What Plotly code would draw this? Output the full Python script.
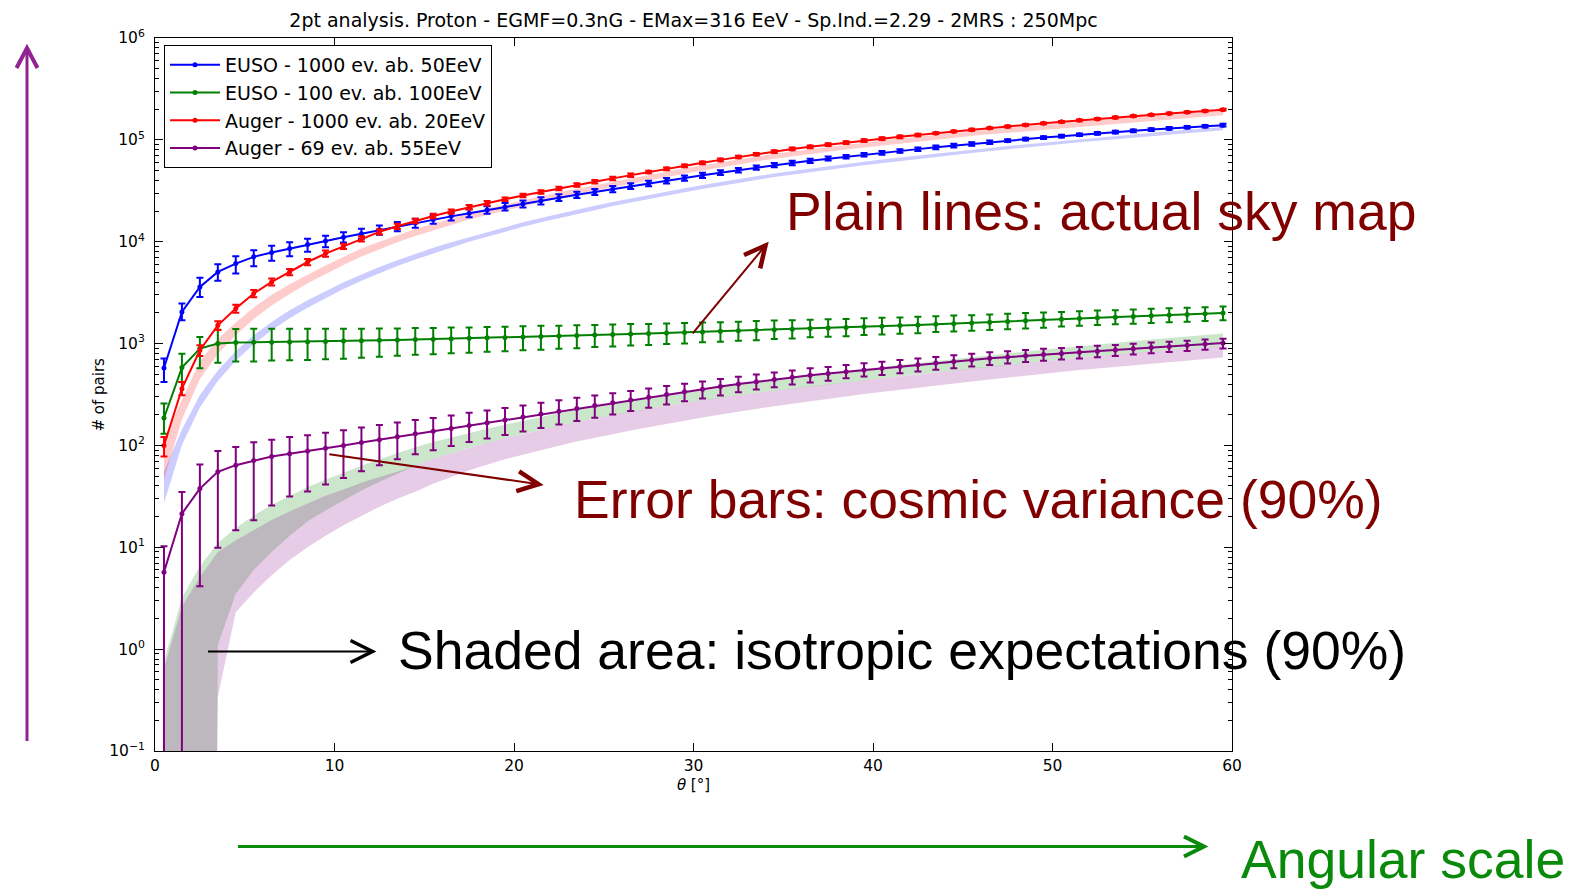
import math
import plotly.graph_objects as go

# ---------------------------------------------------------------- data
THETA = [0.5, 1.5, 2.5, 3.5, 4.5, 5.5, 6.5, 7.5, 8.5, 9.5,
         10.5, 11.5, 12.5, 13.5, 14.5, 15.5, 16.5, 17.5, 18.5, 19.5,
         20.5, 21.5, 22.5, 23.5, 24.5, 25.5, 26.5, 27.5, 28.5, 29.5,
         30.5, 31.5, 32.5, 33.5, 34.5, 35.5, 36.5, 37.5, 38.5, 39.5,
         40.5, 41.5, 42.5, 43.5, 44.5, 45.5, 46.5, 47.5, 48.5, 49.5,
         50.5, 51.5, 52.5, 53.5, 54.5, 55.5, 56.5, 57.5, 58.5, 59.5]

Y_TICK_VALUES = [0.1, 1, 10, 100, 1000, 10000, 100000, 1000000]
Y_TICK_LABELS = ["10<sup>−1</sup>", "10<sup>0</sup>", "10<sup>1</sup>", "10<sup>2</sup>",
                 "10<sup>3</sup>", "10<sup>4</sup>", "10<sup>5</sup>", "10<sup>6</sup>"]

# EUSO - 1000 ev. ab. 50EeV
EUSO_1000 = [575, 2040, 3590, 5050, 6100, 7100, 7850, 8570, 9400, 10150,
             11050, 12000, 13000, 14100, 15250, 16490, 17740, 19070, 20490, 21980,
             23560, 25240, 27000, 28870, 30830, 32900, 35070, 37350, 39740, 42240,
             44860, 47590, 50450, 53430, 56530, 59350, 62250, 65230, 68280, 71390,
             74570, 77800, 81090, 84430, 87820, 91250, 94700, 98190, 101700, 105200,
             108700, 112300, 115800, 119300, 122700, 126200, 129600, 132900, 136200, 139400]
EUSO_1000_UP = [24, 21, 23, 19, 18, 16, 16, 15, 14, 13,
                12, 12, 11, 11, 10, 10, 10, 9, 9, 9,
                8, 8, 8, 7, 7, 7, 7, 6, 6, 6,
                6, 6, 5, 5, 5, 5, 5, 5, 4, 4,
                4, 4, 4, 4, 4, 4, 4, 3, 3, 3,
                3, 3, 3, 3, 3, 3, 3, 3, 3, 3]
EUSO_1000_DN = [27, 17, 20, 18, 20, 19, 17, 16, 15, 13,
                11, 11, 10, 10, 10, 9, 9, 9, 8, 8,
                8, 8, 7, 7, 7, 7, 6, 6, 6, 6,
                6, 5, 5, 5, 5, 5, 5, 4, 4, 4,
                4, 4, 4, 4, 4, 4, 4, 3, 3, 3,
                3, 3, 3, 3, 3, 3, 3, 3, 3, 3]
EUSO_1000_ISO_LO = [27, 101, 236, 429, 677, 986, 1350, 1770, 2250, 2800,
                    3430, 4140, 4910, 5770, 6680, 7710, 8780, 9980, 11200, 12600,
                    14000, 15500, 17000, 18700, 20400, 22400, 24300, 26300, 28400, 30600,
                    32900, 35300, 37800, 40300, 43200, 45700, 48300, 50900, 53600, 56300,
                    59200, 62000, 65000, 68000, 71000, 74500, 77700, 81000, 84300, 87700,
                    91100, 94600, 98200, 101800, 105400, 109200, 112900, 116700, 120600, 124500]
EUSO_1000_ISO_HI = [55, 143, 312, 545, 845, 1210, 1630, 2120, 2670, 3280,
                    3990, 4770, 5650, 6570, 7610, 8700, 9900, 11100, 12500, 13900,
                    15500, 17100, 18800, 20600, 22600, 24500, 26600, 28800, 31100, 33500,
                    36000, 38600, 41300, 44100, 46800, 49500, 52300, 55100, 58000, 61000,
                    64100, 67200, 70400, 73600, 76900, 80000, 83400, 86900, 90400, 94100,
                    97800, 101500, 105300, 109100, 113100, 117100, 121100, 125200, 129300, 133500]

# EUSO - 100 ev. ab. 100EeV
EUSO_100 = [186, 581, 893, 1000, 1023, 1028, 1033, 1038, 1043, 1050,
            1058, 1066, 1075, 1084, 1094, 1104, 1115, 1126, 1138, 1150,
            1162, 1175, 1188, 1201, 1215, 1229, 1243, 1257, 1272, 1287,
            1302, 1318, 1334, 1351, 1368, 1386, 1404, 1423, 1442, 1462,
            1482, 1503, 1524, 1546, 1568, 1595, 1622, 1650, 1678, 1706,
            1734, 1762, 1790, 1818, 1846, 1874, 1903, 1932, 1962, 1992]
EUSO_100_UP = [39, 37, 30, 37, 36, 36, 35, 35, 34, 33,
               32, 31, 31, 30, 30, 29, 29, 28, 28, 27,
               27, 27, 26, 26, 25, 25, 25, 24, 24, 24,
               24, 23, 23, 23, 23, 22, 22, 22, 21, 21,
               21, 20, 20, 20, 20, 19, 19, 19, 19, 18,
               18, 18, 18, 17, 17, 17, 17, 16, 16, 16]
EUSO_100_DN = [30, 28, 36, 35, 35, 35, 34, 34, 34, 33,
               33, 32, 31, 30, 29, 29, 28, 28, 27, 27,
               26, 26, 25, 25, 24, 24, 23, 23, 22, 22,
               21, 21, 20, 20, 19, 19, 18, 18, 18, 17,
               17, 17, 17, 16, 16, 16, 16, 16, 16, 16,
               15, 15, 15, 15, 15, 15, 15, 15, 15, 15]
EUSO_100_ISO_LO = [0, 0, 0, 1.1, 3.5, 6, 9, 13, 18, 23,
                   29, 36, 44, 53, 63, 74, 84, 95, 106, 118,
                   130, 143, 156, 170, 184, 199, 214, 229, 245, 261,
                   277, 294, 311, 328, 345, 363, 381, 399, 418, 437,
                   456, 477, 500, 523, 546, 569, 594, 619, 644, 670,
                   697, 724, 750, 779, 808, 836, 865, 895, 926, 957]
EUSO_100_ISO_HI = [0.75, 3.2, 6.5, 11, 15.5, 20.5, 26, 32, 39, 46,
                   54, 63, 73, 84, 96, 108, 120, 133, 146, 160,
                   175, 191, 207, 224, 242, 260, 279, 298, 318, 338,
                   359, 380, 402, 424, 446, 469, 492, 516, 540, 565,
                   590, 618, 648, 678, 709, 740, 772, 805, 838, 872,
                   908, 944, 980, 1017, 1056, 1094, 1134, 1174, 1215, 1257]

# Auger - 1000 ev. ab. 20EeV
AUGER_1000 = [100, 361, 859, 1510, 2210, 3100, 4030, 5050, 6320, 7650,
              9020, 10700, 12500, 14200, 16000, 17900, 19780, 21780, 23890, 26110,
              28430, 30850, 33380, 36050, 38860, 41850, 45000, 48400, 51900, 55600,
              59500, 63600, 67900, 72300, 76800, 81500, 85500, 89700, 94000, 98300,
              102700, 107100, 111700, 116300, 120900, 125700, 130500, 135300, 140300, 145300,
              150300, 155400, 160600, 165800, 171000, 176300, 181700, 187100, 192500, 198000]
AUGER_1000_UP = [21, 16, 12, 10, 9, 8, 8, 7, 7, 7,
                 6, 6, 6, 6, 5, 5, 5, 5, 5, 4,
                 4, 4, 4, 4, 4, 4, 4, 3, 3, 3,
                 3, 3, 3, 3, 3, 3, 3, 3, 3, 3,
                 3, 3, 3, 2, 2, 2, 2, 2, 2, 2,
                 2, 2, 2, 2, 2, 2, 2, 2, 2, 2]
AUGER_1000_DN = [22, 14, 12, 10, 9, 8, 8, 7, 7, 7,
                 6, 6, 6, 6, 5, 5, 5, 5, 5, 4,
                 4, 4, 4, 4, 4, 4, 4, 3, 3, 3,
                 3, 3, 3, 3, 3, 3, 3, 3, 3, 3,
                 3, 3, 3, 2, 2, 2, 2, 2, 2, 2,
                 2, 2, 2, 2, 2, 2, 2, 2, 2, 2]
AUGER_1000_ISO_LO = [46, 180, 448, 789, 1210, 1740, 2370, 3070, 3900, 4770,
                     5920, 7140, 8460, 9890, 11400, 12950, 14600, 16500, 18300, 20300,
                     22400, 24600, 26800, 29300, 31800, 34300, 37200, 40200, 43300, 46600,
                     50000, 53600, 57600, 61400, 65400, 69000, 72700, 76400, 80200, 84100,
                     88200, 92100, 96200, 100400, 104600, 108900, 113200, 117600, 122000, 126500,
                     131100, 135600, 140300, 145000, 149700, 154400, 159200, 164100, 168900, 174700]
AUGER_1000_ISO_HI = [117, 281, 672, 1110, 1610, 2260, 3010, 3830, 4760, 5830,
                     7090, 8560, 10000, 11600, 13300, 15050, 17000, 18900, 21100, 23300,
                     25600, 28000, 30600, 33100, 35800, 38700, 42000, 45300, 48900, 52600,
                     56400, 60400, 64300, 68600, 73000, 77000, 81100, 85200, 89600, 93900,
                     98400, 102900, 107400, 112000, 116800, 121500, 126400, 131200, 136200, 141300,
                     146300, 151400, 156700, 161800, 167100, 172400, 177800, 183100, 188500, 193000]

# Auger - 69 ev. ab. 55EeV
AUGER_69 = [5.7, 21.4, 37.7, 55, 64, 71, 78, 83, 88, 94,
            100, 107, 114, 122, 130, 138, 147, 157, 167, 178,
            190, 203, 217, 231, 246, 262, 279, 297, 316, 336,
            357, 378, 400, 422, 444, 466, 488, 509, 530, 551,
            573, 596, 619, 643, 667, 691, 716, 739, 759, 779,
            800, 821, 843, 866, 889, 913, 937, 962, 988, 1014]
AUGER_69_UP = [80, 63, 72, 60, 51, 51, 46, 46, 43, 42,
               41, 40, 39, 38, 37, 35, 34, 33, 32, 31,
               30, 29, 28, 27, 26, 24, 23, 22, 21, 20,
               19, 19, 18, 18, 17, 17, 17, 16, 16, 16,
               16, 16, 15, 15, 15, 15, 15, 14, 14, 14,
               13, 13, 13, 12, 12, 12, 11, 11, 11, 10]
AUGER_69_DN = [100, 100, 89, 82, 77, 74, 67, 62, 60, 56,
               52, 48, 44, 40, 37, 35, 33, 31, 30, 29,
               28, 27, 26, 25, 24, 23, 22, 21, 20, 19,
               19, 18, 17, 16, 16, 15, 15, 15, 14, 14,
               14, 14, 14, 14, 14, 14, 14, 14, 13, 13,
               13, 13, 13, 13, 12, 12, 12, 12, 12, 12]
AUGER_69_ISO_LO = [0, 0, 0, 0.34, 2.3, 3.6, 5.3, 7.5, 10, 13,
                   16.5, 20.5, 25, 30, 35, 42, 49, 57, 65, 73,
                   81, 90, 99, 109, 119, 129, 140, 151, 163, 175,
                   188, 201, 215, 229, 243, 257, 272, 288, 303, 319,
                   335, 352, 370, 388, 406, 425, 445, 466, 486, 507,
                   528, 549, 570, 592, 614, 637, 660, 683, 706, 730]
AUGER_69_ISO_HI = [0.65, 2.6, 5.1, 9.0, 11.7, 14.7, 18.5, 22.5, 27, 32,
                   37, 43, 49, 55, 63, 74, 84, 95, 106, 118,
                   130, 143, 156, 170, 184, 199, 214, 229, 245, 261,
                   277, 294, 311, 328, 345, 363, 381, 399, 418, 437,
                   456, 477, 500, 523, 546, 569, 594, 619, 644, 670,
                   697, 724, 750, 779, 808, 836, 865, 895, 926, 957]

SERIES = [
    ("EUSO - 1000 ev. ab. 50EeV", "#0000ff", "rgba(0,0,255,0.2)",
     EUSO_1000, EUSO_1000_UP, EUSO_1000_DN, EUSO_1000_ISO_LO, EUSO_1000_ISO_HI),
    ("EUSO - 100 ev. ab. 100EeV", "#008000", "rgba(0,128,0,0.2)",
     EUSO_100, EUSO_100_UP, EUSO_100_DN, EUSO_100_ISO_LO, EUSO_100_ISO_HI),
    ("Auger - 1000 ev. ab. 20EeV", "#ff0000", "rgba(255,0,0,0.2)",
     AUGER_1000, AUGER_1000_UP, AUGER_1000_DN, AUGER_1000_ISO_LO, AUGER_1000_ISO_HI),
    ("Auger - 69 ev. ab. 55EeV", "#800080", "rgba(128,0,128,0.2)",
     AUGER_69, AUGER_69_UP, AUGER_69_DN, AUGER_69_ISO_LO, AUGER_69_ISO_HI),
]
for s in SERIES:
    for arr in s[3:]:
        assert len(arr) == len(THETA)

TITLE = "2pt analysis. Proton - EGMF=0.3nG - EMax=316 EeV - Sp.Ind.=2.29 - 2MRS : 250Mpc"

# ---------------------------------------------------------------- layout geometry
W, H = 1575, 890
ML, MR, MT, MB = 155, 343, 38, 139
PW, PH = W - ML - MR, H - MT - MB
LOG_FLOOR = 1e-30   # non-positive values are clipped like a log axis does


def to_paper(x, y):
    return (x - ML) / PW, (H - MB - y) / PH


fig = go.Figure()

# isotropic expectation bands (drawn first, under the lines)
for name, color, fill, vals, up, dn, lo, hi in SERIES:
    lo_c = [v if v > 0 else LOG_FLOOR for v in lo]
    fig.add_trace(go.Scatter(
        x=THETA + THETA[::-1], y=hi + lo_c[::-1],
        fill="toself", fillcolor=fill, line=dict(width=0),
        mode="lines", showlegend=False, hoverinfo="skip"))

# actual sky map curves with cosmic-variance error bars
for i, (name, color, fill, vals, up, dn, lo, hi) in enumerate(SERIES):
    fig.add_trace(go.Scatter(
        x=THETA, y=vals, name=name, mode="lines+markers",
        legendgroup=f"g{i}",
        line=dict(color=color, width=2),
        marker=dict(color=color, size=5),
        error_y=dict(type="data", symmetric=False,
                     array=[v * u / 100 for v, u in zip(vals, up)],
                     arrayminus=[v * d / 100 for v, d in zip(vals, dn)],
                     color=color, thickness=2, width=3.5)))

# ---------------------------------------------------------------- arrows
shapes = []


def arrow(x0, y0, x1, y1, color, w_shaft, w_head, back, half):
    L = math.hypot(x1 - x0, y1 - y0)
    ux, uy = (x1 - x0) / L, (y1 - y0) / L
    px, py = -uy, ux
    a = to_paper(x0, y0)
    b = to_paper(x1 - ux * 1.5, y1 - uy * 1.5)
    shapes.append(dict(type="line", xref="paper", yref="paper",
                       x0=a[0], y0=a[1], x1=b[0], y1=b[1],
                       line=dict(color=color, width=w_shaft)))
    w1 = to_paper(x1 - ux * back + px * half, y1 - uy * back + py * half)
    tp = to_paper(x1, y1)
    w2 = to_paper(x1 - ux * back - px * half, y1 - uy * back - py * half)
    path = f"M{w1[0]},{w1[1]} L{tp[0]},{tp[1]} L{w2[0]},{w2[1]}"
    shapes.append(dict(type="path", xref="paper", yref="paper", path=path,
                       line=dict(color=color, width=w_head)))


DARK_RED = "#800000"
arrow(27, 741, 27, 48, "#912291", 3, 4, 20, 10.5)          # vertical: pair counts
arrow(238, 846.5, 1204, 846.5, "#0a8a0a", 3, 4, 20, 10)    # horizontal: angular scale
arrow(692.7, 333.3, 765.5, 245.5, DARK_RED, 2, 4.5, 21, 10.5)
arrow(329.3, 454.3, 538.5, 484.2, DARK_RED, 2, 4.5, 21, 10)
arrow(208, 651.5, 372.5, 651.5, "#000000", 2, 3.5, 22, 11)

# ---------------------------------------------------------------- text
annotations = []


def label(text, x_left, y_center, color):
    px_, py_ = to_paper(x_left, y_center)
    annotations.append(dict(text=text, x=px_, y=py_, xref="paper", yref="paper",
                            xanchor="left", yanchor="middle", showarrow=False,
                            font=dict(family="Liberation Sans, Arial", size=53.5, color=color)))


label("Plain lines: actual sky map", 784, 211.5, DARK_RED)
label("Error bars: cosmic variance (90%)", 572, 500, DARK_RED)
label("Shaded area: isotropic expectations (90%)", 395.5, 650, "#000000")
label("Angular scale", 1239, 859.5, "#0a8a0a")

AXIS_FONT = dict(family="DejaVu Sans", size=15, color="black")
TICK_FONT = dict(family="DejaVu Sans", size=15.5, color="black")

# y axis title placed as a rotated label left of the tick labels
yt_x, yt_y = to_paper(98, (MT + H - MB) / 2)
annotations.append(dict(text="# of pairs", x=yt_x, y=yt_y, xref="paper", yref="paper",
                        xanchor="center", yanchor="middle", textangle=-90,
                        showarrow=False, font=AXIS_FONT))

leg_x, leg_y = to_paper(164, 45)
fig.update_layout(
    width=W, height=H,
    margin=dict(l=ML, r=MR, t=MT, b=MB, pad=0),
    paper_bgcolor="white", plot_bgcolor="white",
    title=dict(text=TITLE, x=693.5 / W, xref="container", xanchor="center",
               y=1 - 20 / H, yref="container", yanchor="middle",
               font=dict(family="DejaVu Sans", size=19, color="black")),
    showlegend=True,
    legend=dict(x=leg_x, y=leg_y, xanchor="left", yanchor="top",
                bgcolor="white", bordercolor="black", borderwidth=1,
                font=dict(family="DejaVu Sans", size=19, color="black"),
                itemwidth=50, tracegroupgap=0),
    shapes=shapes, annotations=annotations,
    xaxis=dict(range=[0, 60], dtick=10, tick0=0,
               showline=True, linecolor="black", linewidth=1, mirror="allticks",
               ticks="inside", ticklen=8, tickcolor="black",
               showgrid=False, zeroline=False,
               tickfont=TICK_FONT,
               title=dict(text="<i>θ</i> [°]", font=AXIS_FONT, standoff=5)),
    yaxis=dict(type="log", range=[-1, 6],
               tickmode="array", tickvals=Y_TICK_VALUES, ticktext=Y_TICK_LABELS,
               showline=True, linecolor="black", linewidth=1, mirror="allticks",
               ticks="inside", ticklen=8, tickcolor="black",
               minor=dict(ticks="inside", ticklen=4, tickcolor="black", showgrid=False,
                          tickmode="array",
                          tickvals=[m * 10 ** e for e in range(-1, 6) for m in range(2, 10)]),
               showgrid=False, zeroline=False,
               tickfont=TICK_FONT, ticklabelstandoff=6),
)

fig.write_html("out.html")
